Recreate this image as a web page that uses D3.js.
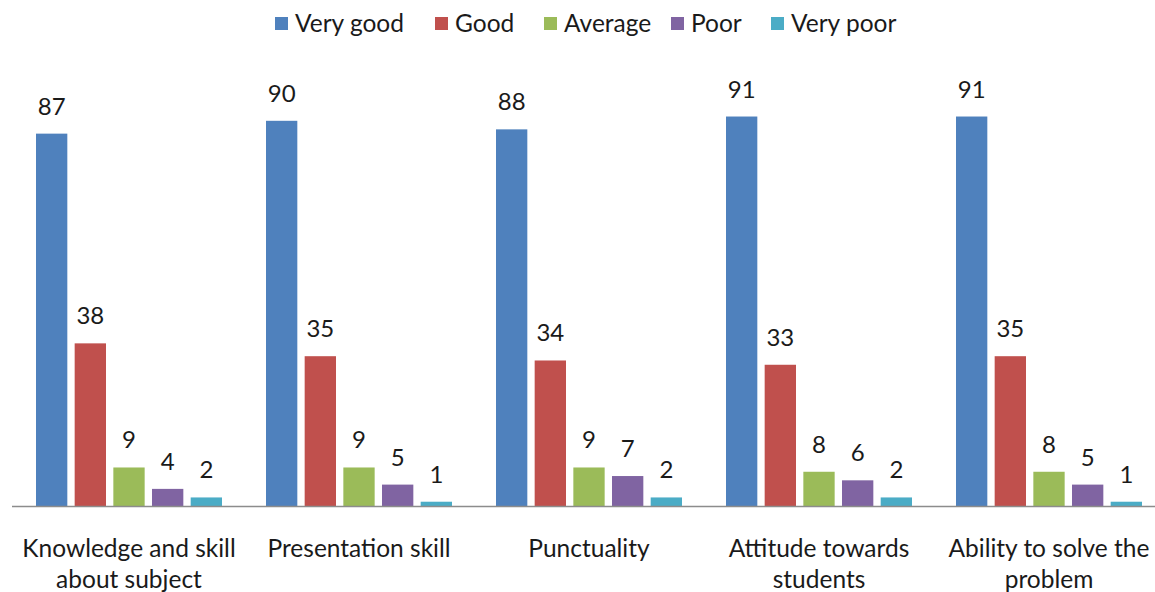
<!DOCTYPE html>
<meta charset="utf-8">
<style>
  body { margin: 0; background: #fff; }
  text { font-family: Lato, "Open Sans", sans-serif; fill: #1a1a1a; }
</style>
<body>
<div id="chart"></div>
<script src="https://d3js.org/d3.v7.min.js"></script>
<script>

  let categories = [
    ["Knowledge and skill", "about subject"],
    ["Presentation skill"],
    ["Punctuality"],
    ["Attitude towards", "students"],
    ["Ability to solve the", "problem"]
  ];
  let seriesNames = ["Very good", "Good", "Average", "Poor", "Very poor"];
  let colors = ["#4f81bd", "#c0504d", "#9bbb59", "#8064a2", "#4bacc6"];

  let veryGood = [87, 90, 88, 91, 91],
    good = [38, 35, 34, 33, 35],
    average = [9, 9, 9, 8, 8],
    poor = [4, 5, 7, 6, 5],
    veryPoor = [2, 1, 2, 2, 1];

  let series = [veryGood, good, average, poor, veryPoor];

  let width = 1155,
    height = 592,
    baseline = 506;

  let svg = d3.select("#chart").append("svg")
    .attr("width", width)
    .attr("height", height);

  let x0 = d3.scaleBand()
    .domain(d3.range(categories.length))
    .range([14, 1164]);

  let x1 = d3.scaleBand()
    .domain(d3.range(seriesNames.length))
    .range([22, x0.bandwidth() - 22])
    .paddingInner(0.19);

  let y = d3.scaleLinear()
    .domain([0, 100])
    .range([baseline, baseline - 428]);

  let groups = svg.selectAll("g.group")
    .data(categories)
    .enter().append("g")
    .attr("class", "group")
    .attr("transform", (d, i) => "translate(" + x0(i) + ",0)");

  groups.selectAll("rect")
    .data((d, i) => series.map((s, j) => ({ s: j, v: s[i] })))
    .enter().append("rect")
    .attr("x", d => x1(d.s))
    .attr("width", x1.bandwidth())
    .attr("y", d => y(d.v))
    .attr("height", d => y(0) - y(d.v))
    .style("fill", d => colors[d.s]);

  groups.selectAll("text.val")
    .data((d, i) => series.map((s, j) => ({ s: j, v: s[i] })))
    .enter().append("text")
    .attr("class", "val")
    .attr("x", d => x1(d.s) + x1.bandwidth() / 2)
    .attr("y", d => y(d.v) - 19)
    .attr("text-anchor", "middle")
    .style("font-size", "24px")
    .text(d => d.v);

  // baseline axis
  svg.append("line")
    .attr("x1", 12).attr("x2", width)
    .attr("y1", baseline + 0.5).attr("y2", baseline + 0.5)
    .style("stroke", "#8c8c8c")
    .style("stroke-width", 1.5);

  // category labels
  groups.each(function(d) {
    let t = d3.select(this).append("text")
      .attr("text-anchor", "middle")
      .style("font-size", "24.5px");
    d.forEach((line, k) => {
      t.append("tspan")
        .attr("x", x0.bandwidth() / 2)
        .attr("y", 557 + k * 31)
        .text(line);
    });
  });

  // legend
  let legendX = [275, 435, 544, 671, 771];
  let legend = svg.selectAll("g.legend")
    .data(seriesNames)
    .enter().append("g")
    .attr("class", "legend")
    .attr("transform", (d, i) => "translate(" + legendX[i] + ",0)");

  legend.append("rect")
    .attr("x", 0).attr("y", 17)
    .attr("width", 13).attr("height", 13)
    .style("fill", (d, i) => colors[i]);

  legend.append("text")
    .attr("x", 20).attr("y", 32)
    .style("font-size", "24.5px")
    .text(d => d);

</script>
